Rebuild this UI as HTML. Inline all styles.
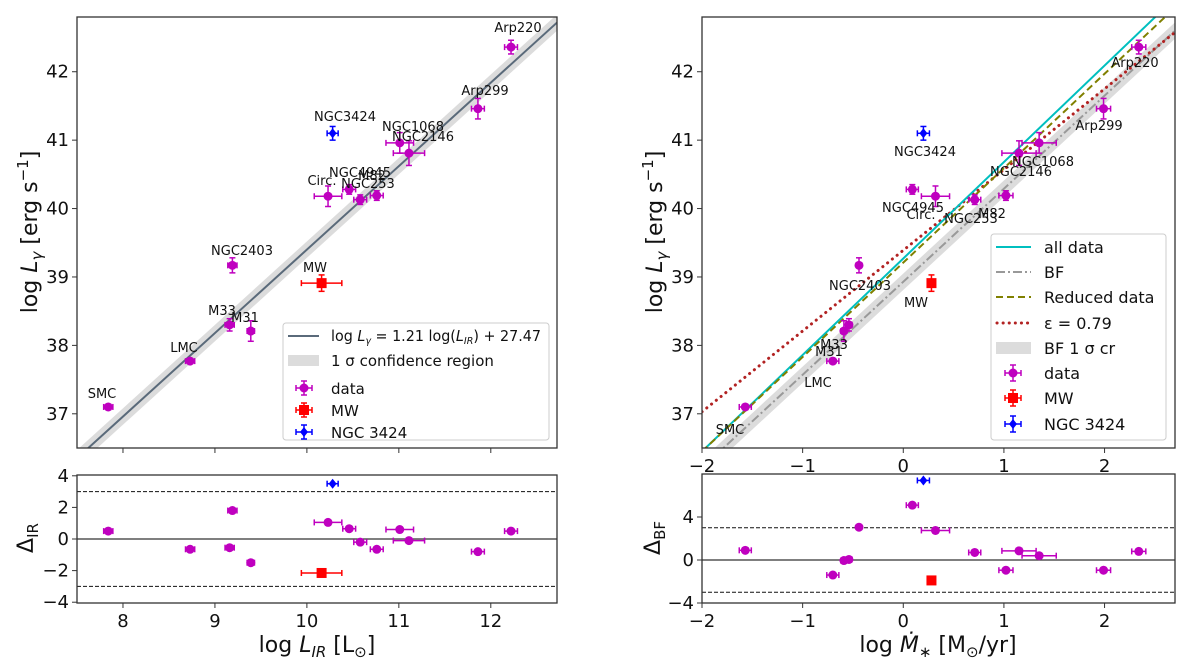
<!DOCTYPE html>
<html><head><meta charset="utf-8"><style>
html,body{margin:0;padding:0;background:#fff;}
svg{display:block;font-family:"DejaVu Sans","Liberation Sans",sans-serif;}
</style></head><body>
<svg id="fig" width="1200" height="668" viewBox="0 0 1200 668" xmlns="http://www.w3.org/2000/svg"></svg>
<script>
const names = ["SMC","LMC","M33","M31","NGC2403","MW","NGC3424","Circ.","NGC4945","NGC253","M82","NGC1068","NGC2146","Arp299","Arp220"];
const kinds = ["d","d","d","d","d","mw","n","d","d","d","d","d","d","d","d"];
const logLIR = [7.84,8.73,9.16,9.39,9.19,10.16,10.28,10.23,10.46,10.58,10.76,11.01,11.11,11.86,12.22];
const logLg  = [37.10,37.77,38.30,38.21,39.17,38.91,41.10,40.18,40.28,40.13,40.19,40.96,40.81,41.46,42.36];
const xerrIR = [0.05,0.05,0.05,0.04,0.05,0.22,0.06,0.15,0.07,0.07,0.07,0.15,0.17,0.07,0.07];
const yerrG  = [0.03,0.03,0.09,0.15,0.11,0.12,0.10,0.15,0.07,0.07,0.07,0.15,0.18,0.15,0.10];
const logMdot = [-1.57,-0.70,-0.54,-0.59,-0.44,0.28,0.20,0.32,0.09,0.71,1.02,1.35,1.15,1.99,2.34];
const xerrM = [0.06,0.06,0.03,0.03,0.0,0.0,0.06,0.14,0.06,0.06,0.07,0.17,0.17,0.07,0.07];
const residIR = [0.5,-0.65,-0.55,-1.5,1.8,-2.15,3.5,1.05,0.65,-0.2,-0.65,0.6,-0.1,-0.8,0.5];
const residBF = [0.9,-1.4,0.05,-0.05,3.05,-1.9,7.4,2.75,5.1,0.7,-0.95,0.4,0.85,-0.95,0.8];
const fitIR = [1.22,27.2];
const fitAll = [1.41,39.27];
const fitRed = [1.38,39.21];
const fitBF = [1.36,38.93];
const fitEps = [1.18,39.39];
const ticksL = [8,9,10,11,12];
const ticksR = [-2,-1,0,1,2];
const ticksY = [37,38,39,40,41,42];
const labL = [[102,398],[184,352],[222,315],[245,322],[242,255],[315,272],[345,121],[322,185],[360,177],[368,188],[372,180],[413,131],[423,141],[485,95],[518,32]];
const labR = [[730,434],[818,387],[834,349],[829,356],[860,290],[916,307],[925,156],[921,219],[913,212],[971,223],[992,218],[1043,166],[1021,176],[1099,130],[1135,67]];

const NS="http://www.w3.org/2000/svg";
const svg=document.getElementById('fig');
function el(tag,attrs,parent,txt){const e=document.createElementNS(NS,tag);for(const k in attrs)e.setAttribute(k,attrs[k]);if(txt!==undefined)e.textContent=txt;(parent||svg).appendChild(e);return e;}
function lin(d0,d1,p0,p1){return v=>p0+(v-d0)*(p1-p0)/(d1-d0);}
const MAG="#bf00bf";
const xL=lin(7.5,12.72,77,557), xR=lin(-2,2.7,702,1175);
const yM=lin(36.5,42.8,448,17);
const yRL=lin(-4.05,4.05,603,475), yRR=lin(-4,8,603,474);

function frame(x0,y0,x1,y1,name){el('rect',{x:x0,y:y0,width:x1-x0,height:y1-y0,fill:'none',stroke:'#333','stroke-width':1.3,});}
function clip(id,x0,y0,x1,y1){const c=el('clipPath',{id:id});el('rect',{x:x0,y:y0,width:x1-x0,height:y1-y0},c);}
clip('cl',77,17,557,448);clip('cr',702,17,1175,448);
function xticks(ticks,sx,y,lab,name){ticks.forEach(t=>{el('line',{x1:sx(t),x2:sx(t),y1:y,y2:y+5,stroke:'#333'});if(lab){const s=t<0?'\u2212'+(-t):''+t;const tx=el('text',{x:sx(t),y:y+24,'font-size':18,'text-anchor':'middle',fill:'#111'},svg,s);}});}
function yticks(ticks,x,sy,name){ticks.forEach(t=>{el('line',{x1:x-5,x2:x,y1:sy(t),y2:sy(t),stroke:'#333'});const s=t<0?'\u2212'+(-t):''+t;const tx=el('text',{x:x-8,y:sy(t)+6,'font-size':18,'text-anchor':'end',fill:'#111'},svg,s);});}

function marker(g,x,y,kind){
  if(kind==='mw'){el('rect',{x:x-5,y:y-5,width:10,height:10,fill:'#f00'},g);}
  else if(kind==='n'){el('path',{d:`M${x} ${y-5}L${x+4} ${y}L${x} ${y+5}L${x-4} ${y}Z`,fill:'#00f'},g);}
  else el('circle',{cx:x,cy:y,r:4.5,fill:MAG},g);
}
function errbar(g,cx,cy,x0,x1,y0,y1,col){
  if(x1-x0>0.5){el('line',{x1:x0,x2:x1,y1:cy,y2:cy,stroke:col,'stroke-width':1.5},g);el('line',{x1:x0,x2:x0,y1:cy-3,y2:cy+3,stroke:col,'stroke-width':1.5},g);el('line',{x1:x1,x2:x1,y1:cy-3,y2:cy+3,stroke:col,'stroke-width':1.5},g);}
  if(y1-y0>0.5){el('line',{x1:cx,x2:cx,y1:y0,y2:y1,stroke:col,'stroke-width':1.5},g);el('line',{x1:cx-3,x2:cx+3,y1:y0,y2:y0,stroke:col,'stroke-width':1.5},g);el('line',{x1:cx-3,x2:cx+3,y1:y1,y2:y1,stroke:col,'stroke-width':1.5},g);}
}
const colOf=k=>k==='mw'?'#f00':(k==='n'?'#00f':MAG);

// ---------- LEFT MAIN ----------
const gL=el('g',{'clip-path':'url(#cl)'});

{const a=7.5,b=12.72,w=0.12;
 const band=el('polygon',{points:`${xL(a)},${yM(fitIR[0]*a+fitIR[1]+w)} ${xL(b)},${yM(fitIR[0]*b+fitIR[1]+w)} ${xL(b)},${yM(fitIR[0]*b+fitIR[1]-w)} ${xL(a)},${yM(fitIR[0]*a+fitIR[1]-w)}`,fill:'#dcdcdc'},gL);
 
 const fl=el('line',{x1:xL(a),y1:yM(fitIR[0]*a+fitIR[1]),x2:xL(b),y2:yM(fitIR[0]*b+fitIR[1]),stroke:'#5a6a7a','stroke-width':2},gL);
 }
names.forEach((n,i)=>{const g=el('g',{},gL);
 const cx=xL(logLIR[i]),cy=yM(logLg[i]);const c=colOf(kinds[i]);
 errbar(g,cx,cy,xL(logLIR[i]-xerrIR[i]),xL(logLIR[i]+xerrIR[i]),yM(logLg[i]+yerrG[i]),yM(logLg[i]-yerrG[i]),c);marker(g,cx,cy,kinds[i]);});
names.forEach((n,i)=>{const t=el('text',{x:labL[i][0],y:labL[i][1],'font-size':13,'text-anchor':'middle',fill:'#111'},svg,n);});
frame(77,17,557,448,'left-main-frame');
yticks(ticksY,77,yM,'y-tick-label');
xticks(ticksL,xL,448,false);
{const t=el('text',{transform:'translate(37,232) rotate(-90)','font-size':22,'text-anchor':'middle',fill:'#111'});
 t.innerHTML='log <tspan font-style="italic">L</tspan><tspan font-style="italic" font-size="15" dy="5">γ</tspan><tspan dy="-5"> [erg s</tspan><tspan font-size="15" dy="-9">−1</tspan><tspan dy="9">]</tspan>';}
{const g=el('g',{});
 el('rect',{x:283,y:323,width:266,height:117,rx:3,fill:'#fff','fill-opacity':0.85,stroke:'#ccc'},g);
 el('line',{x1:288,x2:319,y1:336,y2:336,stroke:'#5a6a7a','stroke-width':2},g);
 const t1=el('text',{x:331,y:341,'font-size':15,fill:'#111',textLength:210,lengthAdjust:'spacingAndGlyphs'},g);t1.innerHTML='log <tspan font-style="italic">L</tspan><tspan font-style="italic" font-size="10" dy="3">γ</tspan><tspan dy="-3"> = 1.21 log(</tspan><tspan font-style="italic">L</tspan><tspan font-style="italic" font-size="10" dy="3">IR</tspan><tspan dy="-3">) + 27.47</tspan>';
 el('rect',{x:288,y:355,width:31,height:11,fill:'#dcdcdc'},g);
 el('text',{x:331,y:366,'font-size':15,fill:'#111'},g,'1 σ confidence region');
 [[388,'d','data'],[410,'mw','MW'],[432,'n','NGC 3424']].forEach(r=>{errbar(g,304,r[0],296,312,r[0]-7,r[0]+7,colOf(r[1]));marker(g,304,r[0],r[1]);el('text',{x:331,y:r[0]+6,'font-size':15,fill:'#111'},g,r[2]);});}

// ---------- LEFT RESID ----------
el('line',{x1:77,x2:557,y1:yRL(0),y2:yRL(0),stroke:'#333','stroke-width':1.3});
[3,-3].forEach(v=>el('line',{x1:77,x2:557,y1:yRL(v),y2:yRL(v),stroke:'#111','stroke-dasharray':'4,2'}));
names.forEach((n,i)=>{const g=el('g',{});
 const cx=xL(logLIR[i]),cy=yRL(residIR[i]);errbar(g,cx,cy,xL(logLIR[i]-xerrIR[i]),xL(logLIR[i]+xerrIR[i]),cy,cy,colOf(kinds[i]));marker(g,cx,cy,kinds[i]);});
frame(77,475,557,603,'left-resid-frame');
yticks([4,2,0,-2,-4],77,yRL,'resid-y-tick');
xticks(ticksL,xL,603,true,'x-tick-label');
{const t=el('text',{transform:'translate(33,538) rotate(-90)','font-size':22,'text-anchor':'middle',fill:'#111'});t.innerHTML='Δ<tspan font-size="15" dy="5">IR</tspan>';}
{const t=el('text',{x:317,y:652,'font-size':22,'text-anchor':'middle',fill:'#111'});t.innerHTML='log <tspan font-style="italic">L</tspan><tspan font-style="italic" font-size="15" dy="5">IR</tspan><tspan dy="-5"> [L</tspan><tspan font-size="15" dy="5">⊙</tspan><tspan dy="-5">]</tspan>';}

// ---------- RIGHT MAIN ----------
const gR=el('g',{'clip-path':'url(#cr)'});

{const a=-2,b=2.7,w=0.12;
 const band=el('polygon',{points:`${xR(a)},${yM(fitBF[0]*a+fitBF[1]+w)} ${xR(b)},${yM(fitBF[0]*b+fitBF[1]+w)} ${xR(b)},${yM(fitBF[0]*b+fitBF[1]-w)} ${xR(a)},${yM(fitBF[0]*a+fitBF[1]-w)}`,fill:'#dcdcdc'},gR);
 
 const L=(f,st,nm)=>{const l=el('line',Object.assign({x1:xR(a),y1:yM(f[0]*a+f[1]),x2:xR(b),y2:yM(f[0]*b+f[1])},st),gR);};
 L(fitBF,{stroke:'#999','stroke-width':2,'stroke-dasharray':'9,3,2,3'},'bf-line');
 L(fitEps,{stroke:'#b22222','stroke-width':3,'stroke-dasharray':'0.1,6','stroke-linecap':'round'},'epsilon-line');
 L(fitAll,{stroke:'#00bfbf','stroke-width':2},'all-data-line');
 L(fitRed,{stroke:'#808000','stroke-width':2,'stroke-dasharray':'7,4'},'reduced-data-line');}
names.forEach((n,i)=>{const g=el('g',{},gR);
 const cx=xR(logMdot[i]),cy=yM(logLg[i]);const c=colOf(kinds[i]);
 errbar(g,cx,cy,xR(logMdot[i]-xerrM[i]),xR(logMdot[i]+xerrM[i]),yM(logLg[i]+yerrG[i]),yM(logLg[i]-yerrG[i]),c);marker(g,cx,cy,kinds[i]);});
names.forEach((n,i)=>{const t=el('text',{x:labR[i][0],y:labR[i][1],'font-size':13,'text-anchor':'middle',fill:'#111'},svg,n);});
frame(702,17,1175,448,'right-main-frame');
yticks(ticksY,702,yM,'y-tick-label-right');
xticks(ticksR,xR,448,true,'x-tick-label-right-top');
{const t=el('text',{transform:'translate(662,232) rotate(-90)','font-size':22,'text-anchor':'middle',fill:'#111'});
 t.innerHTML='log <tspan font-style="italic">L</tspan><tspan font-style="italic" font-size="15" dy="5">γ</tspan><tspan dy="-5"> [erg s</tspan><tspan font-size="15" dy="-9">−1</tspan><tspan dy="9">]</tspan>';}
{const g=el('g',{});
 el('rect',{x:991,y:234,width:175,height:206,rx:3,fill:'#fff','fill-opacity':0.85,stroke:'#ccc'},g);
 const ys=[247,272,297,323,348,373,398,424];
 el('line',{x1:996,x2:1031,y1:ys[0],y2:ys[0],stroke:'#00bfbf','stroke-width':2},g);
 el('line',{x1:996,x2:1031,y1:ys[1],y2:ys[1],stroke:'#999','stroke-width':2,'stroke-dasharray':'9,3,2,3'},g);
 el('line',{x1:996,x2:1031,y1:ys[2],y2:ys[2],stroke:'#808000','stroke-width':2,'stroke-dasharray':'7,4'},g);
 el('line',{x1:997,x2:1031,y1:ys[3],y2:ys[3],stroke:'#b22222','stroke-width':3,'stroke-dasharray':'0.1,6','stroke-linecap':'round'},g);
 el('rect',{x:996,y:ys[4]-6,width:35,height:12,fill:'#dcdcdc'},g);
 ['all data','BF','Reduced data','ε = 0.79','BF 1 σ cr'].forEach((s,k)=>el('text',{x:1044,y:ys[k]+6,'font-size':16,fill:'#111'},g,s));
 [[ys[5],'d','data'],[ys[6],'mw','MW'],[ys[7],'n','NGC 3424']].forEach(r=>{errbar(g,1013,r[0],1005,1021,r[0]-8,r[0]+8,colOf(r[1]));marker(g,1013,r[0],r[1]);el('text',{x:1044,y:r[0]+6,'font-size':16,fill:'#111'},g,r[2]);});}

// ---------- RIGHT RESID ----------
el('line',{x1:702,x2:1175,y1:yRR(0),y2:yRR(0),stroke:'#333','stroke-width':1.3});
[3,-3].forEach(v=>el('line',{x1:702,x2:1175,y1:yRR(v),y2:yRR(v),stroke:'#111','stroke-dasharray':'4,2'}));
names.forEach((n,i)=>{const g=el('g',{});
 const cx=xR(logMdot[i]),cy=yRR(residBF[i]);errbar(g,cx,cy,xR(logMdot[i]-xerrM[i]),xR(logMdot[i]+xerrM[i]),cy,cy,colOf(kinds[i]));marker(g,cx,cy,kinds[i]);});
frame(702,474,1175,603,'right-resid-frame');
yticks([4,0,-4],702,yRR,'resid-y-tick-right');
xticks(ticksR,xR,603,true,'x-tick-label-right');
{const t=el('text',{transform:'translate(660,538) rotate(-90)','font-size':22,'text-anchor':'middle',fill:'#111'});t.innerHTML='Δ<tspan font-size="15" dy="5">BF</tspan>';}
{const t=el('text',{x:938,y:652,'font-size':22,'text-anchor':'middle',fill:'#111'});t.innerHTML='log <tspan font-style="italic">Ṁ</tspan><tspan font-size="15" dy="5">∗</tspan><tspan dy="-5"> [M</tspan><tspan font-size="15" dy="5">⊙</tspan><tspan dy="-5">/yr]</tspan>';}
</script>
</body></html>
